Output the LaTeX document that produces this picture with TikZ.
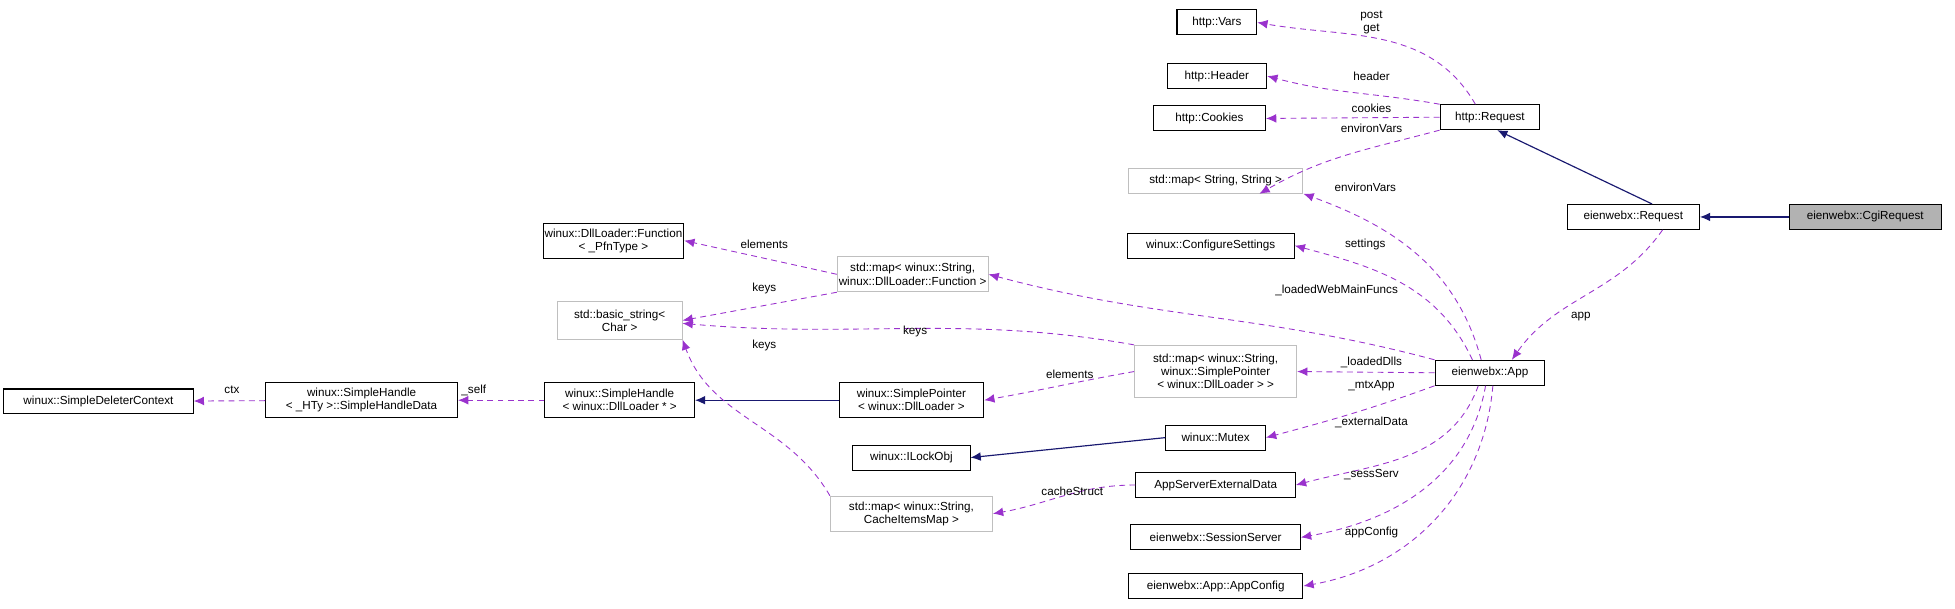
\documentclass[tikz,border=0pt]{standalone}
\usepackage{fontspec}
\setmainfont{Liberation Sans}
\usetikzlibrary{arrows.meta}
\definecolor{pur}{HTML}{9A32CD}
\definecolor{nav}{HTML}{191970}
\begin{document}
\begin{tikzpicture}[x=0.03cm,y=-0.03cm,
 every node/.style={font=\fontsize{8}{9}\selectfont},
 box/.style={draw=black,line width=0.7pt,fill=white,minimum height=20*0.03cm,inner sep=1pt,align=center},
 gbox/.style={box,draw=gray!50},
 dep/.style={draw=pur,dashed,dash pattern=on 4pt off 3pt,line width=0.6pt,-{Latex[length=7pt,width=6pt]}},
 inh/.style={draw=nav,line width=0.8pt,-{Latex[length=7pt,width=6pt]}},
 lbl/.style={inner sep=0pt,align=center}]
\useasboundingbox (0,0) rectangle (1568,488);
\node[box,minimum width=64*0.03cm] (vars) at (976,18) {http::Vars};
\node[box,minimum width=80*0.03cm] (hdr) at (976,61) {http::Header};
\node[box,minimum width=90*0.03cm] (cook) at (970,95) {http::Cookies};
\node[box,minimum width=80*0.03cm] (hreq) at (1195,94) {http::Request};
\node[gbox,minimum width=140*0.03cm] (mss) at (975,145) {std::map< String, String >};
\node[box,minimum width=134*0.03cm] (cfg) at (971,197) {winux::ConfigureSettings};
\node[box,minimum width=106*0.03cm] (ereq) at (1310,174) {eienwebx::Request};
\node[box,fill=gray!60,minimum width=122*0.03cm] (cgi) at (1496,174) {eienwebx::CgiRequest};
\node[box,minimum width=88*0.03cm] (app) at (1195,299) {eienwebx::App};
\node[box,minimum width=110*0.03cm,minimum height=28*0.03cm] (dfn) at (492,193) {winux::DllLoader::Function\\< \_PfnType >};
\node[gbox,minimum width=120*0.03cm,minimum height=28*0.03cm] (mdf) at (732,220) {std::map< winux::String,\\ winux::DllLoader::Function >};
\node[gbox,minimum width=100*0.03cm,minimum height=30*0.03cm] (bstr) at (497,257) {std::basic\_string<\\Char >};
\node[gbox,minimum width=130*0.03cm,minimum height=42*0.03cm] (msp) at (975,298) {std::map< winux::String,\\winux::SimplePointer\\< winux::DllLoader > >};
\node[box,minimum width=152*0.03cm] (sdc) at (79,322) {winux::SimpleDeleterContext};
\node[box,minimum width=154*0.03cm,minimum height=28*0.03cm] (shd) at (290,321) {winux::SimpleHandle\\< \_HTy >::SimpleHandleData};
\node[box,minimum width=120*0.03cm,minimum height=28*0.03cm] (shl) at (497,321) {winux::SimpleHandle\\< winux::DllLoader * >};
\node[box,minimum width=116*0.03cm,minimum height=28*0.03cm] (spt) at (731,321) {winux::SimplePointer\\< winux::DllLoader >};
\node[box,minimum width=80*0.03cm] (mtx) at (975,351) {winux::Mutex};
\node[box,minimum width=94*0.03cm] (ilo) at (731,367) {winux::ILockObj};
\node[box,minimum width=128*0.03cm] (ase) at (975,389) {AppServerExternalData};
\node[gbox,minimum width=130*0.03cm,minimum height=28*0.03cm] (mci) at (731,412) {std::map< winux::String,\\CacheItemsMap >};
\node[box,minimum width=136*0.03cm] (ses) at (975,431) {eienwebx::SessionServer};
\node[box,minimum width=140*0.03cm] (acf) at (975,470) {eienwebx::App::AppConfig};
% inheritance
\draw[inh] (cgi) -- (ereq);
\draw[inh] (ereq.north) ++(15,0) coordinate (e1) (e1) -- ([xshift=5pt]hreq.south);
\draw[inh] (spt) -- (shl);
\draw[inh] (mtx.west) -- (ilo.east);
% dependencies
\draw[dep] ([xshift=-10pt]hreq.north) to[out=120,in=-10] (vars.east);
\draw[dep] (hreq.north west) to[out=170,in=-15] (hdr.east);
\draw[dep] (hreq.west) -- (cook.east);
\draw[dep] (hreq.south west) to[out=195,in=30] ([xshift=30pt]mss.south);
\draw[dep] ([xshift=-6pt]app.north) to[out=105,in=-20] (mss.south east);
\draw[dep] ([xshift=-12pt]app.north) to[out=115,in=-15] (cfg.east);
\draw[dep] (app.north west) to[out=165,in=-15] (mdf.east);
\draw[dep] (app.west) -- (msp.east);
\draw[dep] (app.south west) to[out=200,in=15] (mtx.east);
\draw[dep] ([xshift=-8pt]app.south) to[out=250,in=15] (ase.east);
\draw[dep] ([xshift=-3pt]app.south) to[out=260,in=10] (ses.east);
\draw[dep] ([xshift=2pt]app.south) to[out=265,in=10] (acf.east);
\draw[dep] ([xshift=20pt]ereq.south) to[out=-125,in=55] ([xshift=15pt]app.north);
\draw[dep] (mdf.west) -- (dfn.east);
\draw[dep] (mdf.south west) -- (bstr.east);
\draw[dep] (msp.north west) to[out=170,in=-5] ([yshift=-2pt]bstr.east);
\draw[dep] (mci.north west) to[out=120,in=-70] (bstr.south east);
\draw[dep] (msp.west) to[out=190,in=10] (spt.east);
\draw[dep] (ase.west) to[out=180,in=10] (mci.east);
\draw[dep] (shl) -- (shd);
\draw[dep] (shd) -- (sdc);
% labels
\node[lbl] at (1100,18) {post\\get};
\node[lbl] at (1100,61) {header};
\node[lbl] at (1100,87) {cookies};
\node[lbl] at (1100,103) {environVars};
\node[lbl] at (1095,150) {environVars};
\node[lbl] at (1095,196) {settings};
\node[lbl] at (1072,233) {\_loadedWebMainFuncs};
\node[lbl] at (1100,291) {\_loadedDlls};
\node[lbl] at (1100,309) {\_mtxApp};
\node[lbl] at (1100,339) {\_externalData};
\node[lbl] at (1100,381) {\_sessServ};
\node[lbl] at (1100,427) {appConfig};
\node[lbl] at (1268,254) {app};
\node[lbl] at (613,196) {elements};
\node[lbl] at (613,231) {keys};
\node[lbl] at (734,266) {keys};
\node[lbl] at (613,277) {keys};
\node[lbl] at (858,300) {elements};
\node[lbl] at (860,394) {cacheStruct};
\node[lbl] at (380,313) {\_self};
\node[lbl] at (186,313) {ctx};
\end{tikzpicture}
\end{document}
